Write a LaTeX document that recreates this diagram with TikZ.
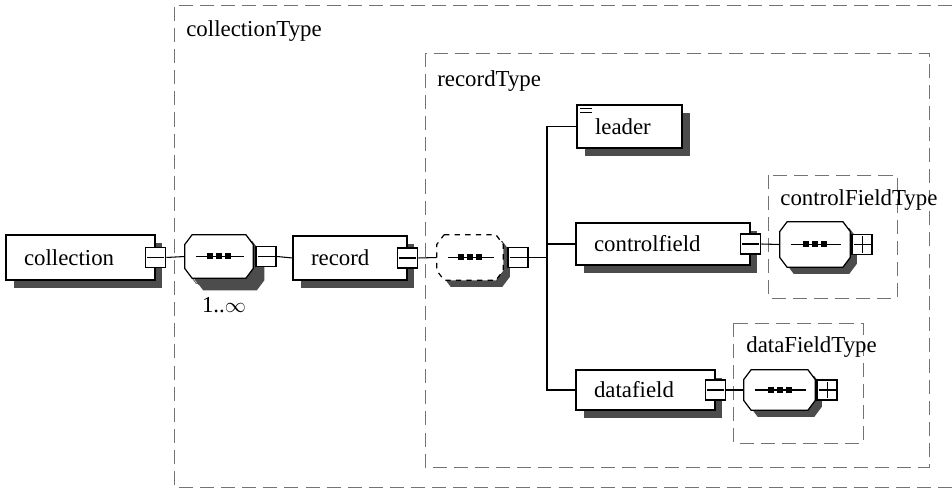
\documentclass[tikz,border=0pt]{standalone}
\usepackage{fontspec}
\setmainfont{Liberation Serif}
\usepackage{tikz}
\usetikzlibrary{
  calc,
  positioning,
  shadows
}
% octagon round a node, moved by #2
\newcommand\octpath[2]{%
  ($(#1.north west)+(0.15cm,0)+#2$) -- ($(#1.north east)+(-0.15cm,0)+#2$)
  -- ($(#1.north east)+(0,-0.2cm)+#2$) -- ($(#1.south east)+(0,0.2cm)+#2$)
  -- ($(#1.south east)+(-0.15cm,0)+#2$) -- ($(#1.south west)+(0.15cm,0)+#2$)
  -- ($(#1.south west)+(0,0.2cm)+#2$) -- ($(#1.north west)+(0,-0.2cm)+#2$)
  -- cycle}
\newcommand\seqoctagon[2][]{%
  \fill[black!70] \octpath{#2}{(0.13cm,-0.13cm)};
  \draw[fill=white, line width=0.7pt, #1] \octpath{#2}{(0,0)};
  \draw[line width=0.6pt] ([xshift=0.22cm]#2.west) -- ([xshift=-0.18cm]#2.east);
  \foreach \dx in {-0.18,0,0.18} {
    \fill ([xshift=\dx cm]#2.center) +(-0.06cm,-0.06cm) rectangle +(0.06cm,0.06cm);
  }
}
\tikzset{
  schemafont/.style={font=\fontsize{13}{15}\selectfont},
  typebox/.style={
    draw=black!55,
    line width=0.5pt,
    dash pattern=on 8pt off 4pt
  },
  typelabel/.style={schemafont, anchor=base west, inner sep=0pt},
  link/.style={line width=0.6pt, black}
}

\begin{document}
\begin{tikzpicture}[
  x=0.02cm, y=-0.02cm,
  elem/.style={
    schemafont,
    draw,
    fill=white,
    line width=0.7pt,
    inner xsep=0.36cm,
    inner ysep=0pt,
    align=left,
    drop shadow={shadow xshift=0.15cm, shadow yshift=-0.16cm, opacity=1, fill=black!70}
  },
  seqbox/.style={inner sep=0pt},
  minusbox/.style={
    draw,
    fill=white,
    line width=1pt,
    minimum size=0.4cm,
    inner sep=0pt,
    path picture={
      \draw[line width=0.6pt] ([xshift=0.03cm]path picture bounding box.west)
        -- ([xshift=-0.03cm]path picture bounding box.east);
    }
  },
  plusbox/.style={
    minusbox,
    path picture={
      \draw[line width=0.6pt] ([xshift=0.03cm]path picture bounding box.west)
        -- ([xshift=-0.03cm]path picture bounding box.east);
      \draw[line width=0.6pt] ([yshift=-0.03cm]path picture bounding box.north)
        -- ([yshift=0.03cm]path picture bounding box.south);
    }
  }
]
\useasboundingbox (0,0) rectangle (952,492);

% type containers
\draw[typebox] (952,5) -- (174,5) -- (174,487) -- (952,487);
\node[typelabel] (collTypeLabel) at (186,37) {collectionType};

\draw[typebox] (425,53) rectangle (929,467);
\node[typelabel] (recTypeLabel) at (437,87) {recordType};

\draw[typebox] (768,175) rectangle (897,298);
\node[typelabel] (cfTypeLabel) at (780,206) {controlFieldType};

\draw[typebox] (733,323) rectangle (863,443);
\node[typelabel] (dfTypeLabel) at (746,353) {dataFieldType};

% elements
\node[elem, text width=2.26cm, minimum height=0.9cm] (collection) at (80.5,257.5) {collection};
\node[minusbox] (collminus) at (collection.east) {};

\node[seqbox, minimum width=1.36cm, minimum height=0.86cm] (seq1) at (219,256.5) {};
\fill[black!70] \octpath{seq1}{(0.22cm,-0.24cm)};
\draw[fill=white, draw=black!60, line width=0.5pt] \octpath{seq1}{(0.08cm,-0.1cm)};
\seqoctagon{seq1}
\node[minusbox, right=0.04cm of seq1] (seq1sq) {};
\node[schemafont, inner sep=0pt] (seq1mult) at (224,305) {1..$\infty$};

\node[elem, text width=1.56cm, minimum height=0.88cm] (record) at (350,258) {record};
\node[minusbox] (recminus) at (record.east) {};

\node[seqbox, minimum width=1.32cm, minimum height=0.9cm] (seq2) at (470,257.5) {};
\seqoctagon[dashed]{seq2}
\node[minusbox, right=0.08cm of seq2] (seq2sq) {};

\node[elem, text width=1.38cm, minimum height=0.86cm] (leader) at (629.5,126.5) {leader};
\draw[line width=0.7pt] ([shift={(0.08cm,-0.09cm)}]leader.north west) -- +(0.24cm,0);
\draw[line width=0.7pt] ([shift={(0.08cm,-0.17cm)}]leader.north west) -- +(0.24cm,0);

\node[elem, text width=2.76cm, minimum height=0.84cm] (controlfield) at (663,244) {controlfield};
\node[minusbox] (cfminus) at (controlfield.east) {};

\node[seqbox, minimum width=1.4cm, minimum height=0.9cm] (cfseq) at (815,244.5) {};
\seqoctagon{cfseq}
\node[plusbox, right=0.02cm of cfseq] (cfseqsq) {};

\node[elem, text width=2.06cm, minimum height=0.8cm] (datafield) at (645.5,390) {datafield};
\node[minusbox] (dfminus) at (datafield.east) {};

\node[seqbox, minimum width=1.42cm, minimum height=0.8cm] (dfseq) at (779.5,390) {};
\seqoctagon{dfseq}
\node[plusbox, right=0.02cm of dfseq] (dfseqsq) {};

% connectors
\coordinate (trunk) at (547,258);
\draw[link] (collminus.east) -- (seq1.west);
\draw[link] (seq1sq.east) -- (record.west);
\draw[link] (recminus.east) -- (seq2.west);
\draw[link] (seq2sq.east) -- (seq2sq.east -| trunk);
\draw[link] (leader.west) -| (trunk) |- (datafield.west);
\draw[link] (controlfield.west) -- (controlfield.west -| trunk);
\draw[link] (cfminus.east) -- (cfseq.west);
\draw[link] (dfminus.east) -- (dfseq.west);

\end{tikzpicture}
\end{document}
